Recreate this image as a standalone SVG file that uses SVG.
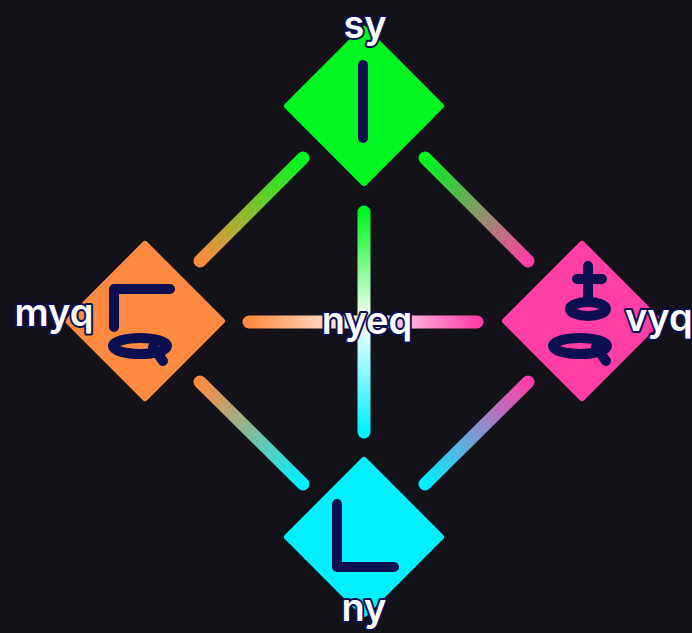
<svg xmlns="http://www.w3.org/2000/svg" width="692" height="633" viewBox="0 0 692 633">
<style>
.bg{fill:#131218}
.conn{fill:none;stroke-width:13;stroke-linecap:round}
.icon{fill:none;stroke:#0b0f4f;stroke-width:10;stroke-linecap:round;stroke-linejoin:round}
.lbl{font-family:Inter,"Noto Sans",sans-serif;font-weight:600;font-size:38px;fill:#ffffff;stroke:#0b1150;stroke-width:4;paint-order:stroke fill;stroke-linejoin:round}
</style>
<defs>
<linearGradient id="gGO" gradientUnits="userSpaceOnUse" x1="303" y1="158" x2="200" y2="261"><stop offset="0" stop-color="#00f71f"/><stop offset="1" stop-color="#ff8a40"/></linearGradient>
<linearGradient id="gGP" gradientUnits="userSpaceOnUse" x1="425" y1="158" x2="528" y2="261"><stop offset="0" stop-color="#00f71f"/><stop offset="1" stop-color="#ff3fa5"/></linearGradient>
<linearGradient id="gOC" gradientUnits="userSpaceOnUse" x1="200" y1="382" x2="303" y2="484"><stop offset="0" stop-color="#ff8a40"/><stop offset="1" stop-color="#00f0ff"/></linearGradient>
<linearGradient id="gPC" gradientUnits="userSpaceOnUse" x1="528" y1="382" x2="425" y2="484"><stop offset="0" stop-color="#ff3fa5"/><stop offset="1" stop-color="#00f0ff"/></linearGradient>
<linearGradient id="gV" gradientUnits="userSpaceOnUse" x1="364" y1="212" x2="364" y2="432"><stop offset="0" stop-color="#00f71f"/><stop offset="0.5" stop-color="#ffffff"/><stop offset="1" stop-color="#00f0ff"/></linearGradient>
<linearGradient id="gH" gradientUnits="userSpaceOnUse" x1="249" y1="322" x2="477" y2="322"><stop offset="0" stop-color="#ff8a40"/><stop offset="0.5" stop-color="#ffffff"/><stop offset="1" stop-color="#ff3fa5"/></linearGradient>
</defs>
<rect class="bg" x="0" y="0" width="692" height="633"/>
<g id="connectors">
<line class="conn" stroke="url(#gGO)" x1="303" y1="158" x2="200" y2="261"/>
<line class="conn" stroke="url(#gGP)" x1="425" y1="158" x2="528" y2="261"/>
<line class="conn" stroke="url(#gOC)" x1="200" y1="382" x2="303" y2="484"/>
<line class="conn" stroke="url(#gPC)" x1="528" y1="382" x2="425" y2="484"/>
<line class="conn" stroke="url(#gV)" x1="364" y1="212" x2="364" y2="432"/>
<line class="conn" stroke="url(#gH)" x1="249" y1="322" x2="477" y2="322"/>
</g>
<g id="node-sy">
<rect x="-57.5" y="-57.5" width="115" height="115" rx="3" fill="#00f71f" transform="translate(364,106) rotate(45)"/>
<path class="icon" d="M363 65 V138"/>
<text class="lbl" x="365" y="38" text-anchor="middle">sy</text>
</g>
<g id="node-myq">
<rect x="-57.5" y="-57.5" width="115" height="115" rx="3" fill="#ff8a40" transform="translate(145,321) rotate(45)"/>
<path class="icon" d="M170 289 H114 V327"/>
<ellipse class="icon" cx="140" cy="346" rx="27" ry="8"/>
<path class="icon" d="M153 347 L163 361"/>
<text class="lbl" x="54" y="326" text-anchor="middle">myq</text>
</g>
<g id="node-vyq">
<rect x="-57.5" y="-57.5" width="115" height="115" rx="3" fill="#ff3fa5" transform="translate(582,321) rotate(45)"/>
<path class="icon" d="M588 266 V298 M577 279 H602"/>
<ellipse class="icon" cx="588" cy="309" rx="18" ry="7"/>
<ellipse class="icon" cx="580" cy="346" rx="27" ry="8"/>
<path class="icon" d="M596 347 L606 361"/>
<text class="lbl" x="625" y="331">vyq</text>
</g>
<g id="node-ny">
<rect x="-57.5" y="-57.5" width="115" height="115" rx="3" fill="#00f0ff" transform="translate(364,537) rotate(45)"/>
<path class="icon" d="M337 504 V567 H394"/>
<text class="lbl" x="364" y="621" text-anchor="middle">ny</text>
</g>
<g id="node-nyeq">
<text class="lbl" x="367" y="334" text-anchor="middle">nyeq</text>
</g>
</svg>
